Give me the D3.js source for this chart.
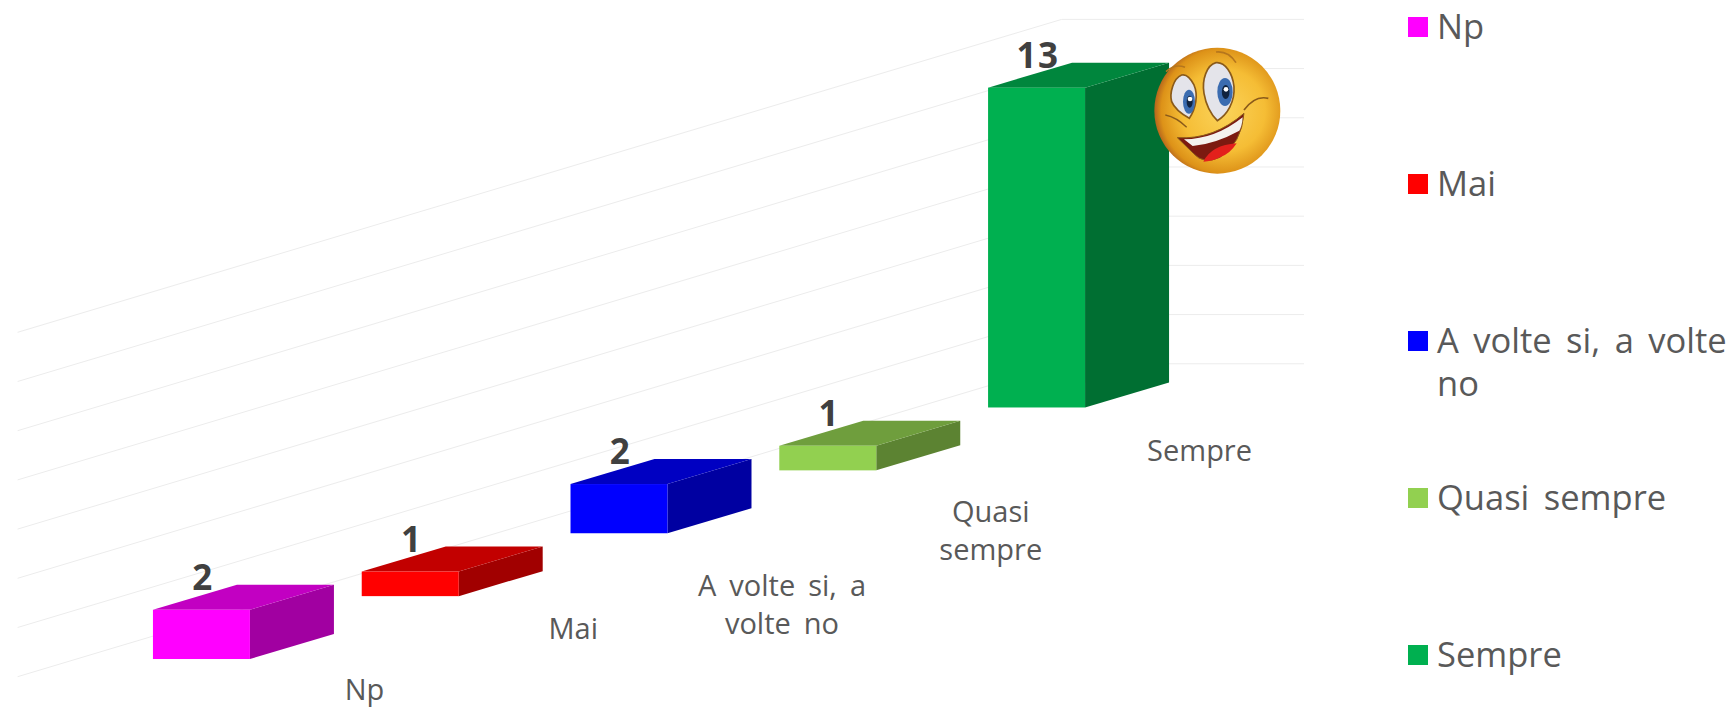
<!DOCTYPE html>
<html>
<head>
<meta charset="utf-8">
<script src="https://cdn.jsdelivr.net/npm/d3@7"></script>
<style>
  body { margin: 0; background: #fff; }
  text { font-family: "Open Sans", sans-serif; word-spacing: 5.5px; }
</style>
</head>
<body>
<div id="chart"></div>
<script>
// data
var categories = ["Np", "Mai", "A volte si, a volte no", "Quasi sempre", "Sempre"];
var values = [2, 1, 2, 1, 13];
var gridTicks = [0, 2, 4, 6, 8, 10, 12, 14];
var colors = ["#ff00ff", "#ff0000", "#0000ff", "#92d050", "#00b050"];

var width = 1736, height = 707;

// the chart is a sheared 3d column chart: the ground rises to the right
var slope = 0.3012;
var depth = { x: 84, y: 25 };
var wall = { left: 17.6, corner: 1061.7, right: 1304, bottom: 676.7 };

var x = d3.scaleBand()
  .domain(categories)
  .range([97, 1141])
  .paddingInner(0.5355)
  .paddingOuter(0.268);
var h = d3.scaleLinear().domain([0, 14]).range([0, 344.4]);

function groundY(px) {
  return 659 - slope * (px - 153);
}

function shade(c, k) {
  var r = d3.rgb(c);
  return d3.rgb(r.r * k, r.g * k, r.b * k).formatHex();
}

var svg = d3.select("#chart").append("svg")
  .attr("width", width)
  .attr("height", height)
  .style("display", "block");

// gridlines, back wall then side wall
var gridLine = d3.line();
svg.append("g").selectAll("path")
  .data(gridTicks)
  .enter()
  .append("path")
  .attr("fill", "none")
  .attr("stroke", "#ececec")
  .attr("stroke-width", 1)
  .attr("d", function (d) {
    var yCorner = wall.bottom - (wall.corner - wall.left) * 0.2997 - h(d);
    return gridLine([
      [wall.left, wall.bottom - h(d)],
      [wall.corner, yCorner],
      [wall.right, yCorner]
    ]);
  });

// bars
var bars = svg.append("g").selectAll("g")
  .data(categories)
  .enter()
  .append("g");

function poly(pts) {
  return gridLine(pts) + "Z";
}

bars.each(function (d, i) {
  var g = d3.select(this);
  var x0 = x(d), x1 = x0 + x.bandwidth();
  var yb = groundY(x0), yt = yb - h(values[i]);
  g.append("path")
    .attr("fill", shade(colors[i], 0.63))
    .attr("d", poly([[x1, yt], [x1 + depth.x, yt - depth.y], [x1 + depth.x, yb - depth.y], [x1, yb]]));
  g.append("path")
    .attr("fill", shade(colors[i], 0.76))
    .attr("d", poly([[x0, yt], [x0 + depth.x, yt - depth.y], [x1 + depth.x, yt - depth.y], [x1, yt]]));
  g.append("rect")
    .attr("x", x0).attr("y", yt)
    .attr("width", x.bandwidth())
    .attr("height", yb - yt)
    .attr("fill", colors[i]);
  g.append("text")
    .attr("x", x0 + x.bandwidth() / 2 + 1.5)
    .attr("y", yt - 20)
    .attr("text-anchor", "middle")
    .attr("font-size", 35)
    .attr("font-weight", "bold")
    .attr("letter-spacing", 1.5)
    .attr("fill", "#404040")
    .text(values[i]);
});

// split a label on spaces so no line gets wider than maxWidth
function wrap(sel, maxWidth, lineHeight) {
  sel.each(function () {
    var t = d3.select(this), words = t.text().split(" "), px = t.attr("x");
    t.text(null);
    var line = [], tspan = t.append("tspan").attr("x", px);
    words.forEach(function (w) {
      line.push(w);
      tspan.text(line.join(" "));
      if (tspan.node().getComputedTextLength() > maxWidth && line.length > 1) {
        line.pop();
        tspan.text(line.join(" "));
        line = [w];
        tspan = t.append("tspan").attr("x", px).attr("dy", lineHeight).text(w);
      }
    });
  });
}

// category labels, first line baseline sits under the ground line
var labelDrop = [41, 43, 63, 52, 54];
svg.append("g").selectAll("text")
  .data(categories)
  .enter()
  .append("text")
  .attr("x", function (d) { return x(d) + x.bandwidth() / 2 + 163; })
  .attr("y", function (d, i) { return groundY(x(d)) + labelDrop[i]; })
  .attr("text-anchor", "middle")
  .attr("font-size", 29)
  .attr("fill", "#595959")
  .text(function (d) { return d; })
  .call(wrap, 178, 37.5);

// legend
var legendY = d3.scalePoint().domain(categories).range([27, 655]);
var legend = svg.append("g").selectAll("g")
  .data(categories)
  .enter()
  .append("g");
legend.append("rect")
  .attr("x", 1408)
  .attr("y", function (d) { return legendY(d) - 10; })
  .attr("width", 20)
  .attr("height", 20)
  .attr("fill", function (d, i) { return colors[i]; });
legend.append("text")
  .attr("x", 1437)
  .attr("y", function (d) { return legendY(d) + 12; })
  .attr("font-size", 34.5)
  .attr("fill", "#595959")
  .text(function (d) { return d; })
  .call(wrap, 300, 43);

// smiley, drawn in a 480x450 box
var defs = svg.append("defs");
var grad = defs.append("radialGradient").attr("id", "face")
  .attr("cx", "0.55").attr("cy", "0.5").attr("r", "0.55");
grad.append("stop").attr("offset", "0").attr("stop-color", "#fbd35a");
grad.append("stop").attr("offset", "0.6").attr("stop-color", "#f5bd35");
grad.append("stop").attr("offset", "0.9").attr("stop-color", "#dd9218");
grad.append("stop").attr("offset", "1").attr("stop-color", "#b5651d");

var s = svg.append("g").attr("transform", "translate(1140,30) scale(0.3333)");
s.append("circle").attr("cx", 232).attr("cy", 242).attr("r", 189).attr("fill", "url(#face)");
var shapes = [
  // left eye, right eye
  { d: "M125,135C100,145 88,190 95,215C105,240 130,255 148,265C168,235 175,195 162,165C152,145 138,132 125,135Z", fill: "#e4e4ea", stroke: "#8a5a1a", w: 5 },
  { d: "M228,98C200,105 185,150 192,190C198,225 215,255 232,272C262,255 285,215 282,170C278,130 255,95 228,98Z", fill: "#e4e4ea", stroke: "#8a5a1a", w: 5 },
  // brows and smile line
  { d: "M78,125Q105,100 135,112", fill: "none", stroke: "#b5761d", w: 5 },
  { d: "M228,66Q265,62 288,98", fill: "none", stroke: "#b5761d", w: 5 },
  { d: "M76,255Q110,262 140,292", fill: "none", stroke: "#8a5a1a", w: 4 },
  { d: "M385,205Q345,195 312,240", fill: "none", stroke: "#8a5a1a", w: 5 },
  // mouth, tongue, teeth
  { d: "M112,323Q220,330 312,250Q305,340 240,382Q190,405 160,370Z", fill: "#7c1a10", stroke: "#8a5a1a", w: 3 },
  { d: "M190,395Q215,345 290,340Q270,372 240,382Q215,395 190,395Z", fill: "#e3201c" },
  { d: "M132,328Q225,328 308,262Q306,290 298,302Q225,342 158,348Z", fill: "#f4f2ee" }
];
s.selectAll("path")
  .data(shapes)
  .enter()
  .append("path")
  .attr("d", function (d) { return d.d; })
  .attr("fill", function (d) { return d.fill; })
  .attr("stroke", function (d) { return d.stroke || "none"; })
  .attr("stroke-width", function (d) { return d.w || 0; });
var eyes = [
  { cx: 147, cy: 215, rx: 18, ry: 36 },
  { cx: 255, cy: 186, rx: 23, ry: 42 }
];
s.selectAll("ellipse.iris").data(eyes).enter().append("ellipse")
  .attr("cx", function (d) { return d.cx; }).attr("cy", function (d) { return d.cy; })
  .attr("rx", function (d) { return d.rx; }).attr("ry", function (d) { return d.ry; })
  .attr("fill", "#3b6cb0");
s.selectAll("ellipse.pupil").data(eyes).enter().append("ellipse")
  .attr("cx", function (d) { return d.cx + 2; }).attr("cy", function (d) { return d.cy; })
  .attr("rx", function (d) { return d.rx * 0.5; }).attr("ry", function (d) { return d.ry * 0.5; })
  .attr("fill", "#10233f");
s.selectAll("circle.glint").data(eyes).enter().append("circle")
  .attr("cx", function (d) { return d.cx + 3; }).attr("cy", function (d) { return d.cy - 8; })
  .attr("r", 7)
  .attr("fill", "#fff");
</script>
</body>
</html>
